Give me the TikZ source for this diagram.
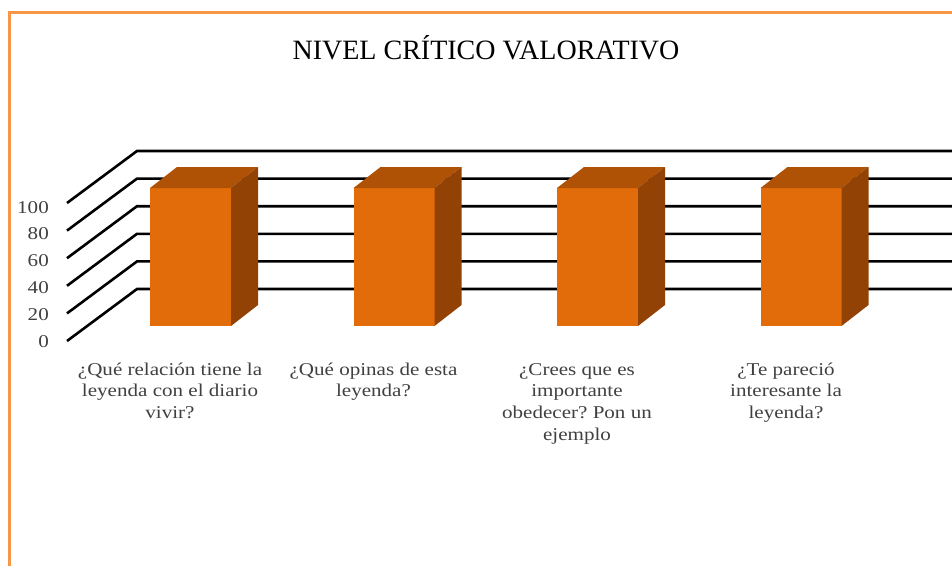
\documentclass[tikz,border=0pt]{standalone}
\usepackage{fontspec}
\setmainfont{Liberation Serif}
\newfontfamily\widefont[FakeStretch=1.17]{Liberation Serif}
\usepackage{tikz}
\frenchspacing

\definecolor{barfront}{RGB}{227,108,10}
\definecolor{bartop}{RGB}{175,82,6}
\definecolor{barside}{RGB}{145,66,4}
\definecolor{frameorange}{RGB}{247,150,70}
\definecolor{axisgray}{RGB}{64,64,64}

\begin{document}
\begin{tikzpicture}[x=1pt, y=-1pt,
        grid/.style={black, line width=2.6pt},
        front/.style={fill=barfront},
        topface/.style={fill=bartop},
        sideface/.style={fill=barside},
        ticklabel/.style={anchor=base east, text=axisgray, font=\widefont\fontsize{18}{21.7}\selectfont, inner sep=0pt},
        catlabel/.style={anchor=base, align=center, text=axisgray, font=\widefont\fontsize{18}{21.7}\selectfont, inner sep=0pt}]
        \useasboundingbox (0,0) rectangle (952,565);
        \begin{scope}
            \clip (0,0) rectangle (952,565);
            \draw[frameorange, line width=3pt] (9.5,600) -- (9.5,12.5) -- (1000,12.5);
        \end{scope}
        % titulo
        \node[font=\fontsize{28}{32}\selectfont] (title) at (486,48) {NIVEL CR\'ITICO VALORATIVO};
        % lineas de la grilla
        \draw[grid] (67,341) -- (137,289) -- (952,289);
        \draw[grid] (67,313.4) -- (137,261.4) -- (952,261.4);
        \draw[grid] (67,285.8) -- (137,233.8) -- (952,233.8);
        \draw[grid] (67,258.2) -- (137,206.2) -- (952,206.2);
        \draw[grid] (67,230.6) -- (137,178.6) -- (952,178.6);
        \draw[grid] (67,203) -- (137,151) -- (952,151);
        % eje vertical
        \node[ticklabel] (v0) at (49,347) {0};
        \node[ticklabel] (v20) at (49,320.2) {20};
        \node[ticklabel] (v40) at (49,293.4) {40};
        \node[ticklabel] (v60) at (49,266.6) {60};
        \node[ticklabel] (v80) at (49,239.8) {80};
        \node[ticklabel] (v100) at (49,213) {100};
        % barras
        \fill[front] (150,188) rectangle (231,326);
        \fill[topface] (150,188) -- (177,167) -- (258,167) -- (231,188) -- cycle;
        \fill[sideface] (231,188) -- (258,167) -- (258,305) -- (231,326) -- cycle;
        \fill[front] (353.5,188) rectangle (434.5,326);
        \fill[topface] (353.5,188) -- (380.5,167) -- (461.5,167) -- (434.5,188) -- cycle;
        \fill[sideface] (434.5,188) -- (461.5,167) -- (461.5,305) -- (434.5,326) -- cycle;
        \fill[front] (557,188) rectangle (638,326);
        \fill[topface] (557,188) -- (584,167) -- (665,167) -- (638,188) -- cycle;
        \fill[sideface] (638,188) -- (665,167) -- (665,305) -- (638,326) -- cycle;
        \fill[front] (760.5,188) rectangle (841.5,326);
        \fill[topface] (760.5,188) -- (787.5,167) -- (868.5,167) -- (841.5,188) -- cycle;
        \fill[sideface] (841.5,188) -- (868.5,167) -- (868.5,305) -- (841.5,326) -- cycle;
        % categorias (base = ultima linea)
        \node[catlabel] (q1) at (170,418.4) {¿Qué relación tiene la\\leyenda con el diario\\vivir?};
        \node[catlabel] (q2) at (373.5,396.7) {¿Qué opinas de esta\\leyenda?};
        \node[catlabel] (q3) at (577,440.1) {¿Crees que es\\importante\\obedecer? Pon un\\ejemplo};
        \node[catlabel] (q4) at (786,418.4) {¿Te pareció\\interesante la\\leyenda?};
\end{tikzpicture}
\end{document}
